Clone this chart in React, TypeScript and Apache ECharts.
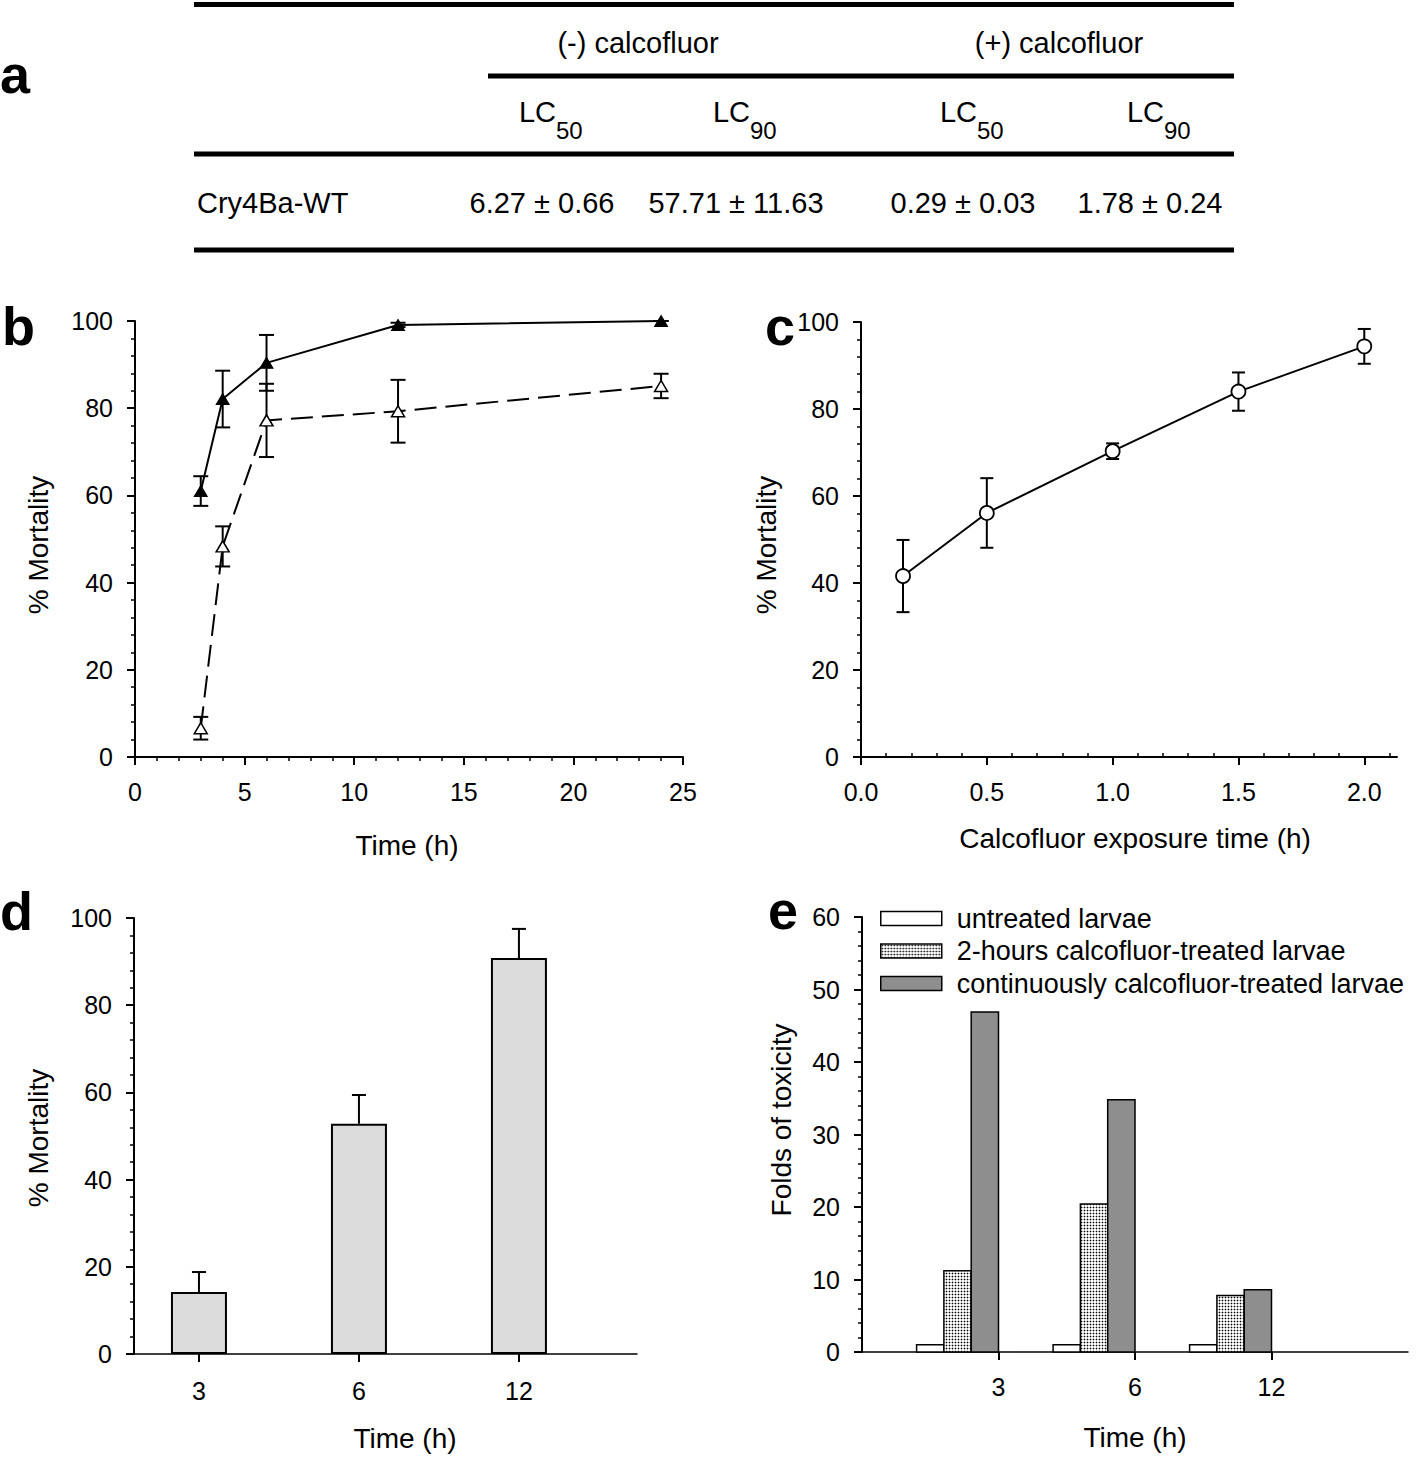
import React, { useEffect, useRef } from 'react';
import * as echarts from 'echarts';

// ---------- Panel a (table) ----------
const tableGroups = ['(-) calcofluor', '(+) calcofluor'];
const tableColMain = ['LC', 'LC', 'LC', 'LC'];
const tableColSub = ['50', '90', '50', '90'];
const tableRowLabel = 'Cry4Ba-WT';
const tableValues = ['6.27 ± 0.66', '57.71 ± 11.63', '0.29 ± 0.03', '1.78 ± 0.24'];

// ---------- Panel b ----------
const timeB = [3, 4, 6, 12, 24];
const withCalco = [61, 82.1, 90.4, 99.1, 100];
const withCalcoErr = [3.4, 6.5, 6.4, 0.5, 0];
const withoutCalco = [6.6, 48.3, 77.2, 79.3, 85.1];
const withoutCalcoErr = [2.6, 4.6, 8.4, 7.2, 2.8];
const xTicksB = [0, 5, 10, 15, 20, 25];

// ---------- Panel c ----------
const exposureC = [0.167, 0.5, 1.0, 1.5, 2.0];
const mortalityC = [41.6, 56.1, 70.3, 84.0, 94.4];
const mortalityCErr = [8.3, 8.0, 1.8, 4.4, 4.0];
const xTicksC = [0, 0.5, 1.0, 1.5, 2.0];

// ---------- Panel d ----------
const timeCatsD = ['3', '6', '12'];
const mortalityD = [14.2, 52.8, 90.8];
const mortalityDErr = [4.6, 6.6, 6.7];

// ---------- Panel e ----------
const timeCatsE = ['3', '6', '12'];
const legendE = [
  'untreated larvae',
  '2-hours calcofluor-treated larvae',
  'continuously calcofluor-treated larvae',
];
const untreated = [1, 1, 1];
const treated2h = [11.2, 20.4, 7.8];
const treatedCont = [46.9, 34.8, 8.6];

const FONT = '"Liberation Sans", Arial, Helvetica, sans-serif';

function makeDotPattern() {
  const c = document.createElement('canvas');
  c.width = 3;
  c.height = 3;
  const ctx = c.getContext('2d')!;
  ctx.fillStyle = '#ffffff';
  ctx.fillRect(0, 0, 3, 3);
  ctx.fillStyle = '#b4b4b4';
  ctx.fillRect(0, 1, 3, 1);
  ctx.fillRect(1, 0, 1, 3);
  ctx.fillStyle = '#000000';
  ctx.fillRect(1, 1, 1, 1);
  return { image: c, repeat: 'repeat', imageWidth: 3, imageHeight: 3 } as any;
}

function errorRender(capHalf: number, upOnly: boolean) {
  return (params: any, api: any) => {
    const x = api.value(0);
    const y = api.value(1);
    const e = api.value(2);
    const top = api.coord([x, y + e]);
    const bot = api.coord([x, upOnly ? y : y - e]);
    const st = { stroke: '#000', lineWidth: 2 };
    const children: any[] = [
      { type: 'line', shape: { x1: top[0], y1: top[1], x2: bot[0], y2: bot[1] }, style: st },
      { type: 'line', shape: { x1: top[0] - capHalf, y1: top[1], x2: top[0] + capHalf, y2: top[1] }, style: st },
    ];
    if (!upOnly) {
      children.push({
        type: 'line',
        shape: { x1: bot[0] - capHalf, y1: bot[1], x2: bot[0] + capHalf, y2: bot[1] },
        style: st,
      });
    }
    return { type: 'group', children };
  };
}

function groupedBarRender(k: number, fill: any) {
  return (params: any, api: any) => {
    const x = api.value(0);
    const v = api.value(1);
    const a = api.coord([x - 0.6 + 0.2 * k, v]);
    const b = api.coord([x - 0.4 + 0.2 * k, 0]);
    return {
      type: 'rect',
      shape: { x: a[0], y: a[1], width: b[0] - a[0], height: b[1] - a[1] },
      style: { fill, stroke: '#000', lineWidth: 1.5 },
    };
  };
}

const axisLine = { show: true, onZero: false, lineStyle: { color: '#000', width: 2 } };
const axisTick = { show: true, inside: false, length: 8, lineStyle: { color: '#000', width: 2 } };
const minorTick = { show: true, splitNumber: 5, length: 4, lineStyle: { color: '#000', width: 1.5 } };
const axisLabel = { color: '#000', fontSize: 25, fontFamily: FONT, margin: 22 };

function txt(text: string, x: number, y: number, size: number, align: string, extra: any = {}) {
  return {
    type: 'text',
    x,
    y,
    rotation: extra.rotation || 0,
    style: {
      text,
      fontSize: size,
      fontFamily: FONT,
      fontWeight: extra.bold ? 'bold' : 'normal',
      fill: '#000',
      align,
      textAlign: align,
      verticalAlign: 'middle',
      textVerticalAlign: 'middle',
    },
  };
}

function hline(x: number, y: number, w: number) {
  return { type: 'rect', shape: { x, y: y - 2.5, width: w, height: 5 }, style: { fill: '#000' } };
}

export default function App() {
  const ref = useRef<HTMLDivElement>(null);

  useEffect(() => {
    document.body.style.margin = '0';
    if (!ref.current) return;
    const chart = echarts.init(ref.current, undefined, { renderer: 'svg' });

    const dotPattern = makeDotPattern();
    const fillsE = ['#ffffff', dotPattern, '#8e8e8e'];
    const valuesE = [untreated, treated2h, treatedCont];

    const minorC: number[] = [];
    for (let i = 1; i <= 21; i++) if (i % 5 !== 0) minorC.push(i / 10);

    const tableCenters = [542, 736, 963, 1150];
    const groupCenters = [638, 1059];

    const graphic: any[] = [
      // table lines
      hline(194, 4.5, 1040),
      hline(488, 76, 746),
      hline(194, 154, 1040),
      hline(194, 250, 1040),
      ...tableGroups.map((g, i) => txt(g, groupCenters[i], 43, 29, 'center')),
      ...tableColMain.map((m, i) => txt(m, tableCenters[i] + 14, 112, 29, 'right')),
      ...tableColSub.map((s, i) => txt(s, tableCenters[i] + 14, 130, 24, 'left')),
      txt(tableRowLabel, 197, 203, 29, 'left'),
      ...tableValues.map((v, i) => txt(v, tableCenters[i], 203, 29, 'center')),
      // panel letters
      txt('a', 0, 74, 54, 'left', { bold: true }),
      txt('b', 2, 326, 54, 'left', { bold: true }),
      txt('c', 765, 326, 54, 'left', { bold: true }),
      txt('d', 0, 911, 54, 'left', { bold: true }),
      txt('e', 768, 910, 54, 'left', { bold: true }),
      // axis titles
      txt('% Mortality', 38, 545, 28, 'center', { rotation: Math.PI / 2 }),
      txt('Time (h)', 407, 845, 28, 'center'),
      txt('% Mortality', 766, 545, 28, 'center', { rotation: Math.PI / 2 }),
      txt('Calcofluor exposure time (h)', 1135, 838, 28, 'center'),
      txt('% Mortality', 38, 1138, 28, 'center', { rotation: Math.PI / 2 }),
      txt('Time (h)', 405, 1438, 28, 'center'),
      txt('Folds of toxicity', 781, 1120, 28, 'center', { rotation: Math.PI / 2 }),
      txt('Time (h)', 1135, 1437, 28, 'center'),
    ];

    const option: any = {
      animation: false,
      backgroundColor: '#ffffff',
      textStyle: { fontFamily: FONT },
      grid: [
        { left: 135, top: 321, width: 548, height: 436 },
        { left: 861, top: 322, width: 536, height: 435 },
        { left: 134, top: 918, width: 503, height: 436 },
        { left: 862, top: 917, width: 546, height: 435 },
      ],
      xAxis: [
        {
          gridIndex: 0, type: 'value', min: 0, max: 25, interval: 5,
          axisLine, axisTick: { ...axisTick, customValues: xTicksB }, minorTick,
          splitLine: { show: false }, axisLabel: { ...axisLabel, customValues: xTicksB },
        },
        {
          gridIndex: 1, type: 'value', min: 0, max: 2.13,
          axisLine, axisTick: { ...axisTick, customValues: xTicksC }, minorTick: { show: false },
          splitLine: { show: false },
          axisLabel: { ...axisLabel, customValues: xTicksC, formatter: (v: number) => v.toFixed(1) },
        },
        {
          gridIndex: 1, type: 'value', min: 0, max: 2.13,
          axisLine: { show: false },
          axisTick: { show: true, inside: false, length: 4, lineStyle: { color: '#000', width: 1.5 }, customValues: minorC },
          axisLabel: { show: false }, splitLine: { show: false }, minorTick: { show: false },
        },
        {
          gridIndex: 2, type: 'value', min: 0.594, max: 3.738,
          axisLine: { ...axisLine, lineStyle: { color: '#000', width: 1.5 } },
          axisTick: { ...axisTick, customValues: [1, 2, 3] },
          minorTick: { show: false }, splitLine: { show: false },
          axisLabel: {
            ...axisLabel, margin: 24, customValues: [1, 2, 3],
            formatter: (v: number) => timeCatsD[Math.round(v) - 1] ?? '',
          },
        },
        {
          gridIndex: 3, type: 'value', min: 0, max: 4,
          axisLine: { ...axisLine, lineStyle: { color: '#000', width: 1.5 } },
          axisTick: { ...axisTick, customValues: [1, 2, 3] },
          minorTick: { show: false }, splitLine: { show: false },
          axisLabel: {
            ...axisLabel, customValues: [1, 2, 3],
            formatter: (v: number) => timeCatsE[Math.round(v) - 1] ?? '',
          },
        },
      ],
      yAxis: [0, 1, 2].map((g) => ({
        gridIndex: g, type: 'value', min: 0, max: 100, interval: 20,
        axisLine, axisTick, minorTick, splitLine: { show: false }, axisLabel,
      })).concat([
        {
          gridIndex: 3, type: 'value', min: 0, max: 60, interval: 10,
          axisLine, axisTick, minorTick, splitLine: { show: false }, axisLabel,
        } as any,
      ]),
      legend: {
        left: 880, top: 905, orient: 'vertical', padding: 0,
        itemWidth: 61, itemHeight: 14, itemGap: 5.5, icon: 'rect', selectedMode: false,
        textStyle: { fontSize: 27, color: '#000', fontFamily: FONT, padding: [0, 0, 0, 10] },
        data: legendE.map((name, i) => ({
          name,
          itemStyle: { color: fillsE[i], borderColor: '#000', borderWidth: 1.5 },
        })),
      },
      graphic,
      series: [
        // panel b
        {
          type: 'custom', name: 'errB1', xAxisIndex: 0, yAxisIndex: 0, z: 2,
          renderItem: errorRender(7.5, false),
          data: timeB.map((t, i) => [t, withCalco[i], withCalcoErr[i]]),
          encode: { x: 0, y: 1 },
        },
        {
          type: 'custom', name: 'errB2', xAxisIndex: 0, yAxisIndex: 0, z: 2,
          renderItem: errorRender(7.5, false),
          data: timeB.map((t, i) => [t, withoutCalco[i], withoutCalcoErr[i]]),
          encode: { x: 0, y: 1 },
        },
        {
          type: 'line', name: '(+) calcofluor', xAxisIndex: 0, yAxisIndex: 0, z: 3,
          data: timeB.map((t, i) => [t, withCalco[i]]),
          symbol: 'triangle', symbolSize: [13, 11],
          itemStyle: { color: '#000', borderColor: '#000', borderWidth: 1 },
          lineStyle: { color: '#000', width: 2 },
        },
        {
          type: 'line', name: '(-) calcofluor', xAxisIndex: 0, yAxisIndex: 0, z: 3,
          data: timeB.map((t, i) => [t, withoutCalco[i]]),
          symbol: 'triangle', symbolSize: [13, 11],
          itemStyle: { color: '#fff', borderColor: '#000', borderWidth: 1.5 },
          lineStyle: { color: '#000', width: 2, type: [22, 9] },
        },
        // panel c
        {
          type: 'custom', name: 'errC', xAxisIndex: 1, yAxisIndex: 1, z: 2,
          renderItem: errorRender(6.5, false),
          data: exposureC.map((t, i) => [t, mortalityC[i], mortalityCErr[i]]),
          encode: { x: 0, y: 1 },
        },
        {
          type: 'line', name: 'exposure', xAxisIndex: 1, yAxisIndex: 1, z: 3,
          data: exposureC.map((t, i) => [t, mortalityC[i]]),
          symbol: 'circle', symbolSize: 14,
          itemStyle: { color: '#fff', borderColor: '#000', borderWidth: 1.8 },
          lineStyle: { color: '#000', width: 2 },
        },
        // panel d
        {
          type: 'bar', name: 'mortalityD', xAxisIndex: 3, yAxisIndex: 2, z: 2,
          data: mortalityD.map((v, i) => [i + 1, v]),
          barWidth: 56,
          itemStyle: { color: '#dcdcdc', borderColor: '#000', borderWidth: 2 },
        },
        {
          type: 'custom', name: 'errD', xAxisIndex: 3, yAxisIndex: 2, z: 3,
          renderItem: errorRender(7, true),
          data: mortalityD.map((v, i) => [i + 1, v, mortalityDErr[i]]),
          encode: { x: 0, y: 1 },
        },
        // panel e
        ...legendE.map((name, k) => ({
          type: 'custom', name, xAxisIndex: 4, yAxisIndex: 3, z: 2,
          renderItem: groupedBarRender(k, fillsE[k]),
          itemStyle: { color: fillsE[k], borderColor: '#000', borderWidth: 1.5 },
          data: valuesE[k].map((v, i) => [i + 1, v]),
          encode: { x: 0, y: 1 },
        })),
      ],
    };

    chart.setOption(option);
    return () => {
      chart.dispose();
    };
  }, []);

  return <div ref={ref} style={{ width: 1418, height: 1459 }} />;
}
